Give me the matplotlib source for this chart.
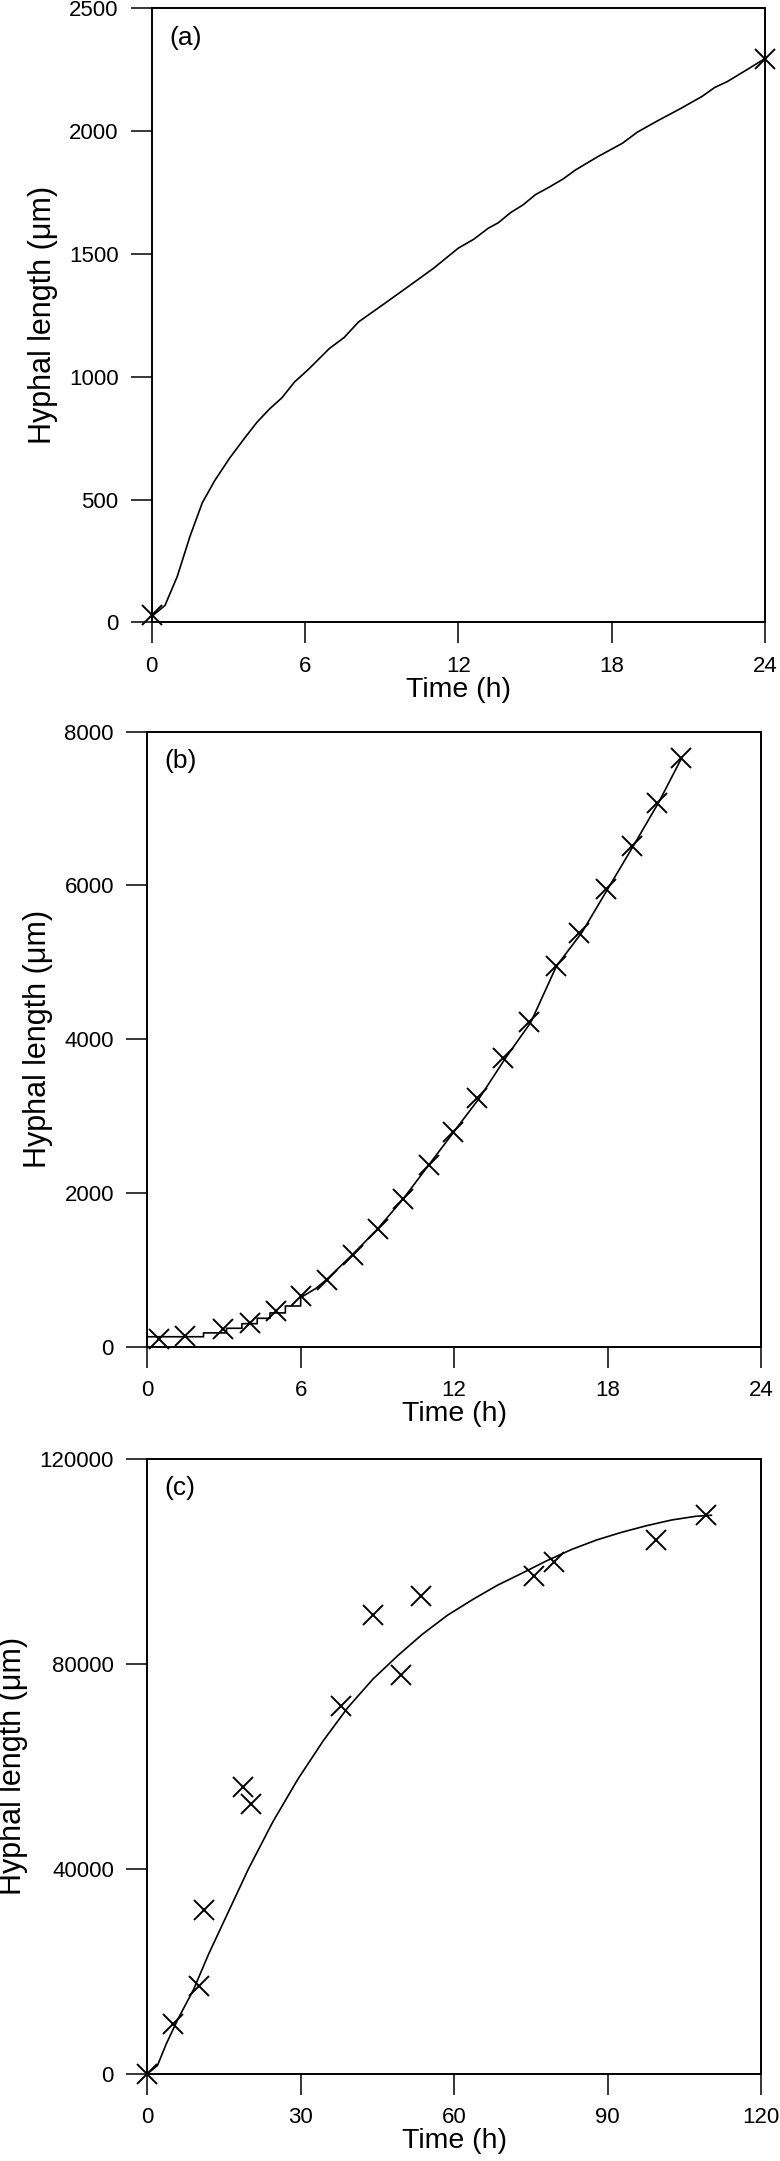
import matplotlib
matplotlib.use("Agg")
import matplotlib.pyplot as plt

plt.rcParams["font.family"] = ["Liberation Sans", "DejaVu Sans"]

# panel (a): model curve and two observed points
a_line_t = [0, 0.52, 1.0, 1.5, 1.98, 2.47, 3.05, 3.64, 4.12, 4.61, 5.1, 5.58, 6.16,
            6.95, 7.53, 8.1, 9.08, 10.06, 11.03, 12.0, 12.6, 13.17, 13.56, 14.05,
            14.53, 15.02, 15.5, 16.09, 16.58, 17.45, 18.42, 19.0, 19.79, 20.76,
            21.54, 22.03, 22.52, 23.3, 24.0]
a_line_len = [24, 69, 187, 351, 487, 578, 669, 751, 815, 869, 915, 978, 1033,
              1115, 1160, 1224, 1296, 1369, 1442, 1524, 1560, 1605, 1627, 1669,
              1700, 1742, 1769, 1805, 1842, 1896, 1951, 1996, 2042, 2096,
              2142, 2178, 2202, 2251, 2296]
a_obs_t = [0, 24]
a_obs_len = [30, 2296]

# panel (b): stepped simulation and observed points
b_line_t = [0, 2.2, 2.2, 3.1, 3.1, 3.7, 3.7, 4.3, 4.3, 4.8, 4.8, 5.4, 5.4, 6.0,
            6.0, 6.6, 7.0, 8.0, 9.0, 10.0, 11.0, 12.0, 13.0, 14.0, 15.0, 16.0,
            17.0, 18.0, 19.0, 20.0, 20.9]
b_line_len = [130, 130, 180, 180, 240, 240, 300, 300, 370, 370, 440, 440, 530, 530,
              640, 760, 870, 1190, 1530, 1920, 2360, 2800, 3240, 3750, 4220, 4950,
              5390, 5950, 6510, 7080, 7660]
b_obs_t = [0.45, 1.46, 2.98, 4.01, 5.02, 6.03, 7.01, 8.04, 9.01, 10.02, 11.0,
           11.97, 12.9, 13.92, 14.91, 15.98, 16.9, 17.93, 18.94, 19.95, 20.89]
b_obs_len = [102, 144, 234, 312, 461, 659, 869, 1192, 1528, 1917, 2361,
             2798, 3230, 3757, 4218, 4955, 5387, 5956, 6513, 7076, 7664]

# panel (c): fitted curve and observed points
c_line_t = [0, 2.0, 3.7, 6.1, 9.05, 12.0, 15.9, 19.8, 24.6, 29.5, 34.4, 39.2, 44.1,
            49.0, 53.8, 58.7, 63.6, 68.4, 73.3, 78.1, 83.0, 87.9, 92.7, 97.6,
            102.5, 107.3, 110.3]
c_line_len = [0, 1660, 5824, 10900, 16455, 23390, 31710, 40030, 49270, 57590, 64990,
              71460, 77010, 81630, 85790, 89490, 92540, 95310, 97710, 100120, 102340,
              104190, 105660, 106960, 108070, 108810, 109000]
c_obs_t = [0, 4.96, 10.2, 11.0, 18.8, 20.2, 37.96, 44.1, 49.7, 53.6, 75.7, 79.6,
           99.4, 109.3]
c_obs_len = [0, 9707, 17195, 31894, 56023, 52695, 71739, 89581, 77823, 93187, 97070,
             99935, 104188, 108995]

x_ticks_ab = [0, 6, 12, 18, 24]
x_ticks_c = [0, 30, 60, 90, 120]
y_ticks_a = [0, 500, 1000, 1500, 2000, 2500]
y_ticks_b = [0, 2000, 4000, 6000, 8000]
y_ticks_c = [0, 40000, 80000, 120000]


def style(ax, xticks, yticks, letter):
    ax.set_xlim(xticks[0], xticks[-1])
    ax.set_ylim(yticks[0], yticks[-1])
    ax.set_xticks(xticks)
    ax.set_yticks(yticks)
    ax.tick_params(direction="out", length=15, width=1.1, pad=9,
                   labelsize=16, top=False, right=False)
    for sp in ax.spines.values():
        sp.set_linewidth(1.4)
    ax.set_xlabel("Time (h)", fontsize=20.5, labelpad=0)
    ax.set_ylabel("Hyphal length (\u03bcm)", fontsize=22, labelpad=8)
    ax.text(0.028, 0.952, letter, transform=ax.transAxes, fontsize=19,
            ha="left", va="center")


fig = plt.figure(figsize=(7.8, 21.61), dpi=100)
ax_a = fig.add_axes([0.1945, 0.7120, 0.7863, 0.2841])
ax_b = fig.add_axes([0.1888, 0.3768, 0.7868, 0.2846])
ax_c = fig.add_axes([0.1888, 0.0403, 0.7868, 0.2846])

mk = dict(linestyle="none", marker="x", markersize=14, mew=1.4, color="black",
          clip_on=False, zorder=3)

ax_a.plot(a_line_t, a_line_len, color="black", lw=1.2)
ax_a.plot(a_obs_t, a_obs_len, **mk)
style(ax_a, x_ticks_ab, y_ticks_a, "(a)")

ax_b.plot(b_line_t, b_line_len, color="black", lw=1.2)
ax_b.plot(b_obs_t, b_obs_len, **mk)
style(ax_b, x_ticks_ab, y_ticks_b, "(b)")

ax_c.plot(c_line_t, c_line_len, color="black", lw=1.2)
ax_c.plot(c_obs_t, c_obs_len, **mk)
style(ax_c, x_ticks_c, y_ticks_c, "(c)")

fig.savefig("out.png", dpi=100)
